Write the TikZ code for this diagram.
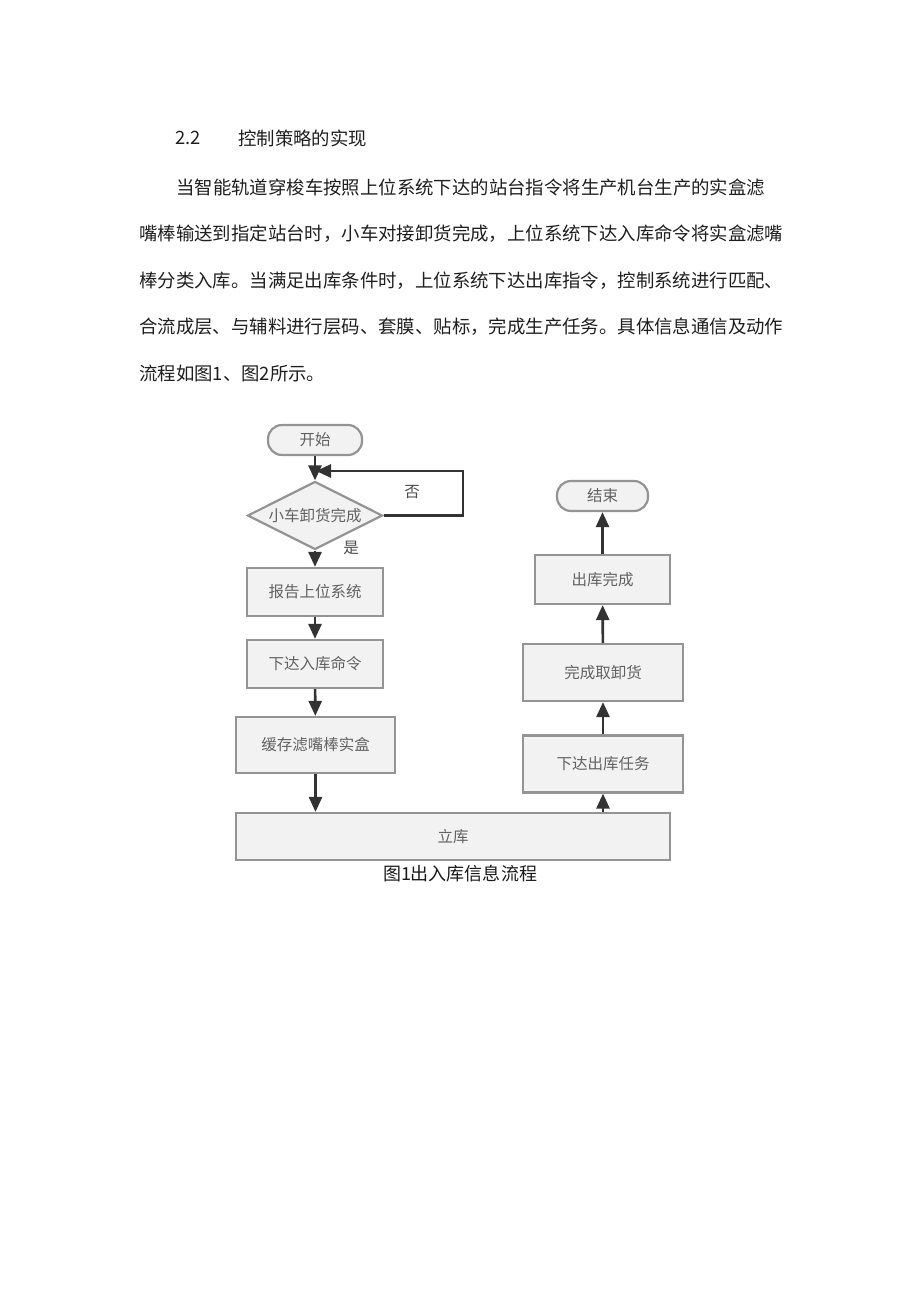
\documentclass[tikz,border=0pt]{standalone}
\usepackage{fontspec}
\setmainfont{Noto Sans CJK SC}
\newfontfamily\cjk{Noto Sans CJK SC}
\usetikzlibrary{shapes.geometric,arrows.meta}
\begin{document}
\begin{tikzpicture}[x=1pt,y=-1pt,
  para/.style={anchor=west,inner sep=0pt,text=black!88,font=\cjk\fontsize{18.4}{20}\selectfont},
  fbox/.style={draw=black!42,line width=2.2pt,fill=black!5,text=black!62,inner sep=0pt,font=\cjk\fontsize{15.5}{17}\selectfont},
  term/.style={fbox,rounded corners=14pt},
  dec/.style={fbox,diamond,aspect=2},
  lbl/.style={inner sep=0pt,text=black!70,font=\cjk\fontsize{15.5}{17}\selectfont},
  flow/.style={draw=black!80,line width=2.6pt,-{Triangle[length=15pt,width=13pt]}}]
\useasboundingbox[fill=white] (0,0) rectangle (920,1301);
% text
\node[para] (h1) at (175,138) {2.2};
\node[para] (h2) at (238,138) {控制策略的实现};
\node[para] (l1) at (176,187) {当智能轨道穿梭车按照上位系统下达的站台指令将生产机台生产的实盒滤};
\node[para] (l2) at (139,234) {嘴棒输送到指定站台时，小车对接卸货完成，上位系统下达入库命令将实盒滤嘴};
\node[para] (l3) at (139,281) {棒分类入库。当满足出库条件时，上位系统下达出库指令，控制系统进行匹配、};
\node[para] (l4) at (139,327) {合流成层、与辅料进行层码、套膜、贴标，完成生产任务。具体信息通信及动作};
\node[para] (l5) at (139,374) {流程如图1、图2所示。};
% flowchart
\node[term,minimum width=94pt,minimum height=30pt] (start) at (315,440) {开始};
\node[dec,minimum width=135pt,minimum height=68pt] (d) at (315,515.5) {小车卸货完成};
\node[fbox,minimum width=136pt,minimum height=48pt] (b1) at (315,592) {报告上位系统};
\node[fbox,minimum width=136pt,minimum height=48pt] (b2) at (315,664) {下达入库命令};
\node[fbox,minimum width=159pt,minimum height=56pt] (b3) at (315.5,745) {缓存滤嘴棒实盒};
\node[fbox,minimum width=434pt,minimum height=47pt] (ku) at (453,836.5) {立库};
\node[fbox,minimum width=160pt,minimum height=57pt] (r1) at (603,764) {下达出库任务};
\node[fbox,minimum width=160pt,minimum height=57pt] (r2) at (603,672.5) {完成取卸货};
\node[fbox,minimum width=135pt,minimum height=49pt] (r3) at (602.5,579.5) {出库完成};
\node[term,minimum width=91pt,minimum height=30pt] (end) at (602.5,496) {结束};
\node[lbl] (no) at (412,492) {否};
\node[lbl] (yes) at (351,548) {是};
\coordinate (loopA) at (463,515.5);
\coordinate (loopB) at (463,471);
\coordinate (loopC) at (316,471);
\draw[flow] (start) -- (d);
\draw[flow] (d.east) -- (loopA) -- (loopB) -- (loopC);
\draw[flow] (d) -- (b1);
\draw[flow] (b1) -- (b2);
\draw[flow] (b2) -- (b3);
\draw[flow] (b3) -- (b3 |- ku.north);
\draw[flow] (ku.north -| r1) -- (r1);
\draw[flow] (r1) -- (r2);
\draw[flow] (r2) -- (r3);
\draw[flow] (r3) -- (end);
\node[inner sep=0pt,text=black!90,font=\cjk\fontsize{18}{20}\selectfont] (cap) at (460,874) {图1出入库信息流程};
\end{tikzpicture}
\end{document}
